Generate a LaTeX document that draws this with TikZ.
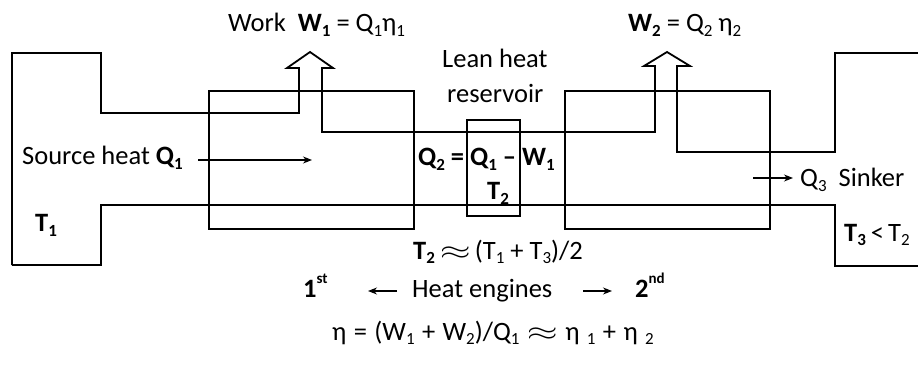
\documentclass[tikz,border=0pt]{standalone}
\usepackage{fontspec}
\usepackage{graphicx}
\setmainfont{Carlito}
\usetikzlibrary{arrows.meta}
\newcommand\dn[1]{\raisebox{-0.16em}{\fontsize{17}{17}\selectfont #1}}
\newcommand\supr[1]{\raisebox{0.5em}{\fontsize{15}{15}\selectfont #1}}
\newcommand\wapprox{\scalebox{1.6}[1.05]{$\approx$}}
\begin{document}
\begin{tikzpicture}[x=1pt,y=-1pt,
  flow/.style={line width=1.8pt, line join=miter},
  boxline/.style={line width=1.4pt},
  lbl/.style={anchor=base west, inner sep=0pt, font=\fontsize{26.5}{30}\selectfont},
  thinarrow/.style={line width=1.1pt, -{Stealth[length=9pt,width=7pt]}}]
\clip (0,0) rectangle (918,366);
% upper flow boundary with the two work arrows
\coordinate (srcTL) at (12,53);
\coordinate (srcTR) at (101,53);
\draw[flow] (12,265) -- (srcTL) -- (srcTR) -- (101,113) -- (299,113) -- (299,68)
  -- (287,68) -- (310,52) -- (333,68) -- (322,68) -- (322,132) -- (655,132)
  -- (655,66) -- (644,66) -- (667,52) -- (690,66) -- (677,66) -- (677,152)
  -- (835,152) -- (835,53) -- (920,53);
% lower flow boundary
\draw[flow] (12,265) -- (101,265) -- (101,205) -- (835,205) -- (835,266) -- (920,266);
% engines and reservoir
\draw[boxline] (209,91) rectangle (414,229);
\draw[boxline] (565,91) rectangle (770,229);
\draw[boxline] (467,120) rectangle (520,216);
% texts
\node[lbl] (work1) at (228,32) {Work \ \textbf{W\dn{1}} = Q\dn{1}η\dn{1}};
\node[lbl] (work2) at (628,32) {\textbf{W\dn{2}} = Q\dn{2} η\dn{2}};
\node[lbl] (lean) at (442,68) {Lean heat};
\node[lbl] (resv) at (447,103) {reservoir};
\node[lbl] (src) at (22,165) {Source heat \textbf{Q\dn{1}}};
\coordinate (srcA) at (198,160);
\coordinate (srcB) at (312,160);
\draw[thinarrow] (srcA) -- (srcB);
\node[lbl] (q2) at (418,166) {\textbf{Q\dn{2} = Q\dn{1} – W\dn{1}}};
\node[lbl] (t2) at (487,200) {\textbf{T\dn{2}}};
\node[lbl] (t1) at (35,232) {\textbf{T\dn{1}}};
\coordinate (q3A) at (753,178);
\coordinate (q3B) at (793,178);
\draw[thinarrow] (q3A) -- (q3B);
\node[lbl] (q3) at (800,187) {Q\dn{3} \ Sinker};
\node[lbl] (t3) at (844,241) {\textbf{T\dn{3}}\hspace{5pt}<\hspace{4pt}T\dn{2}};
\node[lbl] (t2avg) at (413,259) {\textbf{T\dn{2}}\hspace{5pt}\wapprox\hspace{4pt}(T\dn{1} + T\dn{3})/2};
\node[lbl] (first) at (303,297) {\textbf{1\supr{st}}};
\node[lbl] (heng) at (412,297) {Heat engines};
\node[lbl] (second) at (635,297) {\textbf{2\supr{nd}}};
\coordinate (lA) at (397,291);
\coordinate (lB) at (368,291);
\coordinate (rA) at (583,291);
\coordinate (rB) at (612,291);
\draw[thinarrow] (lA) -- (lB);
\draw[thinarrow] (rA) -- (rB);
\node[lbl] (eta) at (332,340) {\spaceskip=7.4pt η = (W\dn{1} + W\dn{2})/Q\dn{1} \wapprox{} η \dn{1} + η \dn{2}};
\end{tikzpicture}
\end{document}
